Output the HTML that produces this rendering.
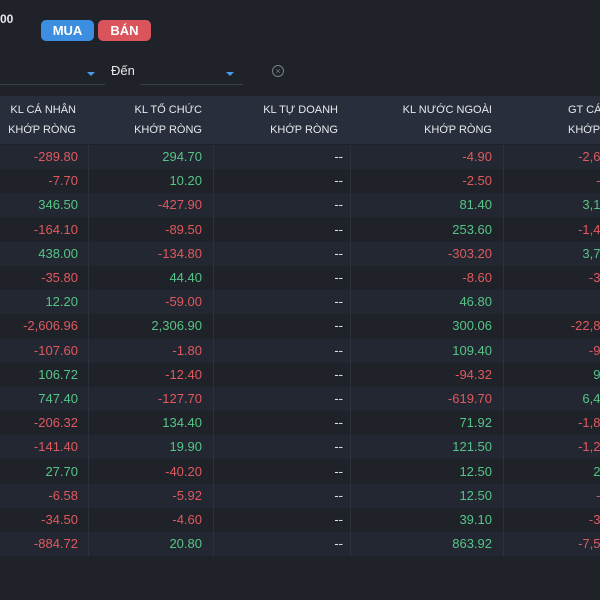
<!DOCTYPE html>
<html><head><meta charset="utf-8">
<style>
html,body{margin:0;padding:0;width:600px;height:600px;overflow:hidden;background:#1f2229;font-family:"Liberation Sans","Noto Sans CJK SC",sans-serif;color:#e6e8ec}
#clip{position:absolute;left:0;top:0;width:600px;height:600px;overflow:hidden}
.abs{position:absolute}
.btn{position:absolute;top:20px;height:21px;border-radius:5px;color:#fff;font-weight:bold;font-size:13px;line-height:21px;text-align:center}
.hdr{position:absolute;top:96px;left:0;width:600px;height:48px;background:#282e3b;overflow:hidden}
.hc{position:absolute;font-size:11px;line-height:20px;top:4px;text-align:right;color:#e6e8ec;white-space:nowrap}
.row{position:absolute;left:0;width:600px;height:24px;overflow:hidden}
.cell{position:absolute;top:0;font-size:13px;line-height:24px;text-align:right;white-space:nowrap}
.sep{position:absolute;top:145px;height:412px;width:1px;background:#2c313b}
.r{color:#e0595e}.g{color:#55c586}.w{color:#dfe2e6}
</style></head><body>
<div id="clip">
<div class="abs" style="left:0;top:12px;font-size:12px;font-weight:bold;color:#e6e8ec">00</div>
<div class="btn" style="left:41px;width:53px;background:#3d8de0">MUA</div>
<div class="btn" style="left:98px;width:53px;background:#d9555b">BÁN</div>
<div class="abs" style="left:0;top:62px;width:105px;height:22px;border-bottom:1px solid #3a3f4a"></div>
<div class="abs" style="left:87px;top:72px;width:0;height:0;border-left:4px solid transparent;border-right:4px solid transparent;border-top:4px solid #4a9be8"></div>
<div class="abs" style="left:111px;top:63px;font-size:13px;color:#e6e8ec">Đến</div>
<div class="abs" style="left:140px;top:62px;width:103px;height:22px;border-bottom:1px solid #3a3f4a"></div>
<div class="abs" style="left:226px;top:72px;width:0;height:0;border-left:4px solid transparent;border-right:4px solid transparent;border-top:4px solid #4a9be8"></div>
<div class="abs" style="left:272px;top:65px;width:10px;height:10px;border:1px solid #7a7f88;border-radius:50%;font-size:9px;line-height:10px;text-align:center;color:#7a7f88">×</div>

<div class="hdr">
<div class="hc" style="right:524px">KL CÁ NHÂN<br>KHỚP RÒNG</div>
<div class="hc" style="right:398px">KL TỔ CHỨC<br>KHỚP RÒNG</div>
<div class="hc" style="right:262px">KL TỰ DOANH<br>KHỚP RÒNG</div>
<div class="hc" style="right:108px">KL NƯỚC NGOÀI<br>KHỚP RÒNG</div>
<div class="hc" style="left:568px;text-align:left">GT CÁ NHÂN<br>KHỚP RÒNG</div>
</div>
<div id="rows"></div>
<div class="sep" style="left:88px"></div>
<div class="sep" style="left:213px"></div>
<div class="sep" style="left:350px"></div>
<div class="sep" style="left:503px"></div>
</div>
<script>
const caNhan=["-289.80","-7.70","346.50","-164.10","438.00","-35.80","12.20","-2,606.96","-107.60","106.72","747.40","-206.32","-141.40","27.70","-6.58","-34.50","-884.72"];
const toChuc=["294.70","10.20","-427.90","-89.50","-134.80","44.40","-59.00","2,306.90","-1.80","-12.40","-127.70","134.40","19.90","-40.20","-5.92","-4.60","20.80"];
const nuocNgoai=["-4.90","-2.50","81.40","253.60","-303.20","-8.60","46.80","300.06","109.40","-94.32","-619.70","71.92","121.50","12.50","12.50","39.10","863.92"];
const gtCaNhan=["-2,657.30","-71.20","3,152.40","-1,468.10","3,712.50","-312.60","98.40","-22,814.70","-945.30","912.80","6,431.20","-1,842.50","-1,215.60","241.70","-58.90","-312.40","-7,548.20"];
const cols=[{arr:caNhan,right:522,name:'kl-ca-nhan'},{arr:toChuc,right:398,name:'kl-to-chuc'},{arr:null,right:257,name:'kl-tu-doanh'},{arr:nuocNgoai,right:108,name:'kl-nuoc-ngoai'},{arr:gtCaNhan,right:-33,name:'gt-ca-nhan'}];
const container=document.getElementById('rows');
const top0=145,rh=24.2;
caNhan.forEach((_,i)=>{
  const row=document.createElement('div');
  row.className='row';
  
  
  row.style.top=(top0+i*rh)+'px';
  row.style.background=i%2===0?'#232731':'#1f2229';
  cols.forEach(c=>{
    const cell=document.createElement('div');
    cell.className='cell';
    
    
    cell.style.right=c.right+'px';
    if(c.arr){const v=c.arr[i];cell.textContent=v;cell.classList.add(v.startsWith('-')?'r':'g');}
    else{cell.textContent='--';cell.classList.add('w');}
    row.appendChild(cell);
  });
  container.appendChild(row);
});
</script>
</body></html>
